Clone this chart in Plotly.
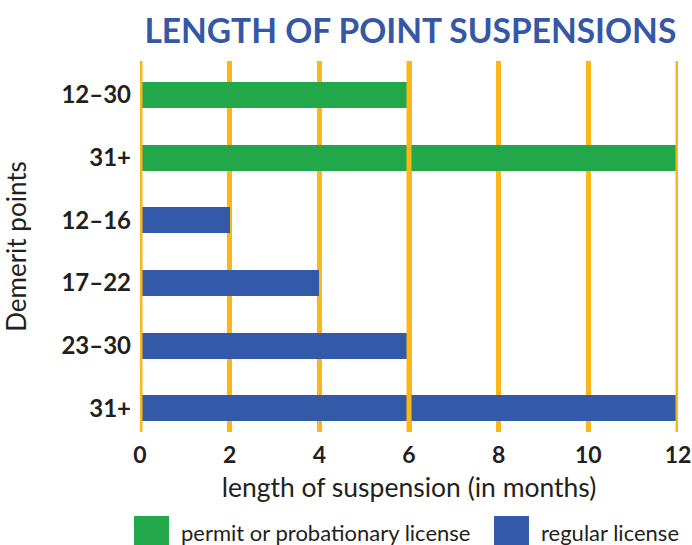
import plotly.graph_objects as go

# ---- data ----
y_labels = ["12–30", "31+", "12–16", "17–22", "23–30", "31+"]
permit_pos = [0, 1]
permit_values = [6, 12]
regular_pos = [2, 3, 4, 5]
regular_values = [2, 4, 6, 12]
x_ticks = [0, 2, 4, 6, 8, 10, 12]
front_lines = [0, 6, 12]
series_names = ["permit or probationary license", "regular license"]

GREEN = "#22A74A"
BLUE = "#335AA8"
ORANGE = "#FDB618"
TEXT = "#231F20"
FONT = "Lato"

fig = go.Figure()
fig.add_trace(go.Bar(y=permit_pos, x=permit_values, orientation="h", name=series_names[0],
                     marker=dict(color=GREEN, line=dict(width=0)), width=0.415))
fig.add_trace(go.Bar(y=regular_pos, x=regular_values, orientation="h", name=series_names[1],
                     marker=dict(color=BLUE, line=dict(width=0)), width=0.415))

shapes = []
for v in front_lines:
    shapes.append(dict(type="line", xref="x", yref="paper", x0=v, x1=v, y0=0, y1=1,
                       line=dict(color=ORANGE, width=5), layer="above"))

# legend swatches (paper coords)
sw = [(-0.0112, 0.0539, GREEN), (0.6580, 0.7230, BLUE)]
for x0, x1, c in sw:
    shapes.append(dict(type="rect", xref="paper", yref="paper", x0=x0, x1=x1,
                       y0=-0.3208, y1=-0.2264, fillcolor=c, line=dict(width=0)))

annotations = [
    dict(text=series_names[0], xref="paper", yref="paper", x=0.0725, y=-0.272,
         xanchor="left", yanchor="middle", showarrow=False, font=dict(size=22, color=TEXT, family=FONT)),
    dict(text=series_names[1], xref="paper", yref="paper", x=0.7416, y=-0.272,
         xanchor="left", yanchor="middle", showarrow=False, font=dict(size=22, color=TEXT, family=FONT)),
]

fig.update_layout(
    width=692, height=545,
    margin=dict(l=140, r=14, t=61, b=113),
    paper_bgcolor="white", plot_bgcolor="white",
    showlegend=False,
    title=dict(text="<b>LENGTH OF POINT SUSPENSIONS</b>", x=0.593, xanchor="center",
               y=0.943, yanchor="middle", font=dict(size=33.5, color="#3558A6", family=FONT)),
    shapes=shapes, annotations=annotations,
    bargap=0,
)
fig.update_xaxes(range=[0, 12], tickvals=x_ticks, ticktext=[f"<b>{t}</b>" for t in x_ticks],
                 automargin=False,
                 showgrid=True, gridcolor=ORANGE, gridwidth=5, zeroline=False, showline=False,
                 ticks="", tickfont=dict(size=23, color=TEXT, family=FONT), ticklabelstandoff=7,
                 title=dict(text="length of suspension (in months)", standoff=11,
                            font=dict(size=26.5, color=TEXT, family=FONT)))
fig.update_yaxes(range=[5.38, -0.54], tickvals=list(range(len(y_labels))),
                 ticktext=[f"<b>{t}</b>" for t in y_labels], automargin=False,
                 showgrid=False, zeroline=False, showline=False, ticks="",
                 tickfont=dict(size=24, color=TEXT, family=FONT), ticklabelstandoff=8,
                 title=dict(text="Demerit points", standoff=28, font=dict(size=26, color=TEXT, family=FONT)))

fig.write_html("out.html", post_script="document.body.style.margin='0px';",
               config={"displayModeBar": False})
